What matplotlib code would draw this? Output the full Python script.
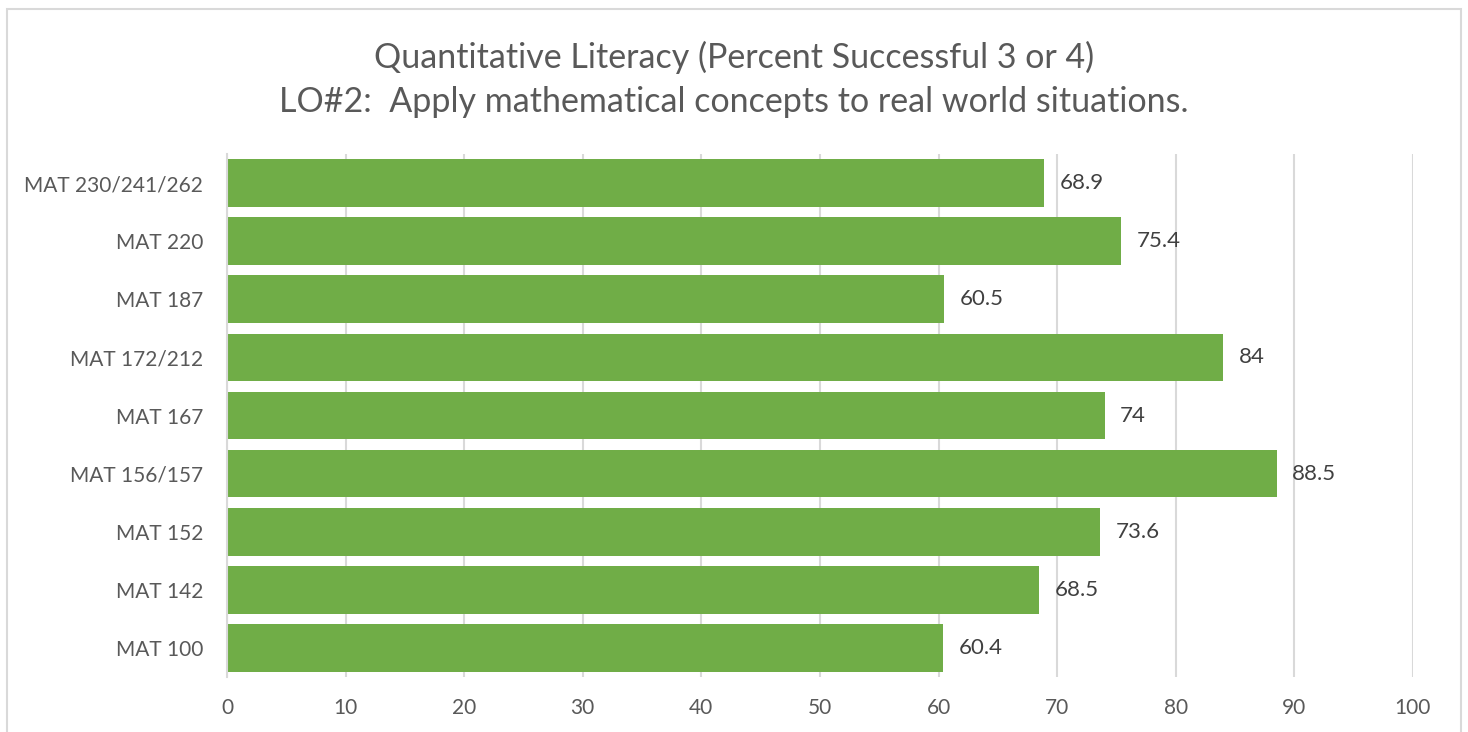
import matplotlib.pyplot as plt
from matplotlib.patches import Rectangle

plt.rcParams['font.family'] = ['Lato', 'DejaVu Sans']

# courses, bottom to top as drawn
courses = ['MAT 100', 'MAT 142', 'MAT 152', 'MAT 156/157', 'MAT 167',
           'MAT 172/212', 'MAT 187', 'MAT 220', 'MAT 230/241/262']
pct_success = [60.4, 68.5, 73.6, 88.5, 74, 84, 60.5, 75.4, 68.9]
x_ticks = [0, 10, 20, 30, 40, 50, 60, 70, 80, 90, 100]

text_grey = '#595959'
label_grey = '#404040'
grid_grey = '#D9D9D9'
bar_green = '#70AD47'

fig = plt.figure(figsize=(14.68, 7.32), dpi=100)
ax = fig.add_axes([0.1546, 0.0751, 0.8079, 0.7145])

ypos = list(range(len(courses)))
bars = ax.barh(ypos, pct_success, height=0.82, color=bar_green, zorder=3)

# value labels just right of each bar
for y, v in zip(ypos, pct_success):
    ax.text(v + 1.3, y, f'{v:g}', va='center', ha='left',
            fontsize=16, color=label_grey)

ax.set_xlim(0, 100)
ax.set_ylim(-0.5, len(courses) - 0.5)
ax.set_xticks(x_ticks)
ax.set_yticks(ypos)
ax.set_yticklabels(courses)
ax.tick_params(axis='both', length=0, labelsize=15, colors=text_grey)
ax.tick_params(axis='x', pad=15)
ax.tick_params(axis='y', pad=17)
ax.xaxis.grid(True, color=grid_grey, linewidth=1.5, zorder=0)
for side in ['top', 'right', 'bottom']:
    ax.spines[side].set_visible(False)
ax.spines['left'].set_color(grid_grey)
ax.spines['left'].set_linewidth(1.5)
ax.spines['left'].set_zorder(4)

fig.text(0.5, 0.922, 'Quantitative Literacy (Percent Successful 3 or 4)',
         ha='center', va='center', fontsize=24.5, color=text_grey)
fig.text(0.5, 0.860, 'LO#2:  Apply mathematical concepts to real world situations.',
         ha='center', va='center', fontsize=24.5, color=text_grey)

# chart frame
fig.patches.append(Rectangle((7 / 1468, -0.05), 1454 / 1468, 1.05 - 9 / 732,
                             transform=fig.transFigure, fill=False,
                             edgecolor=grid_grey, linewidth=1.5))

fig.savefig('out.png', dpi=100)
